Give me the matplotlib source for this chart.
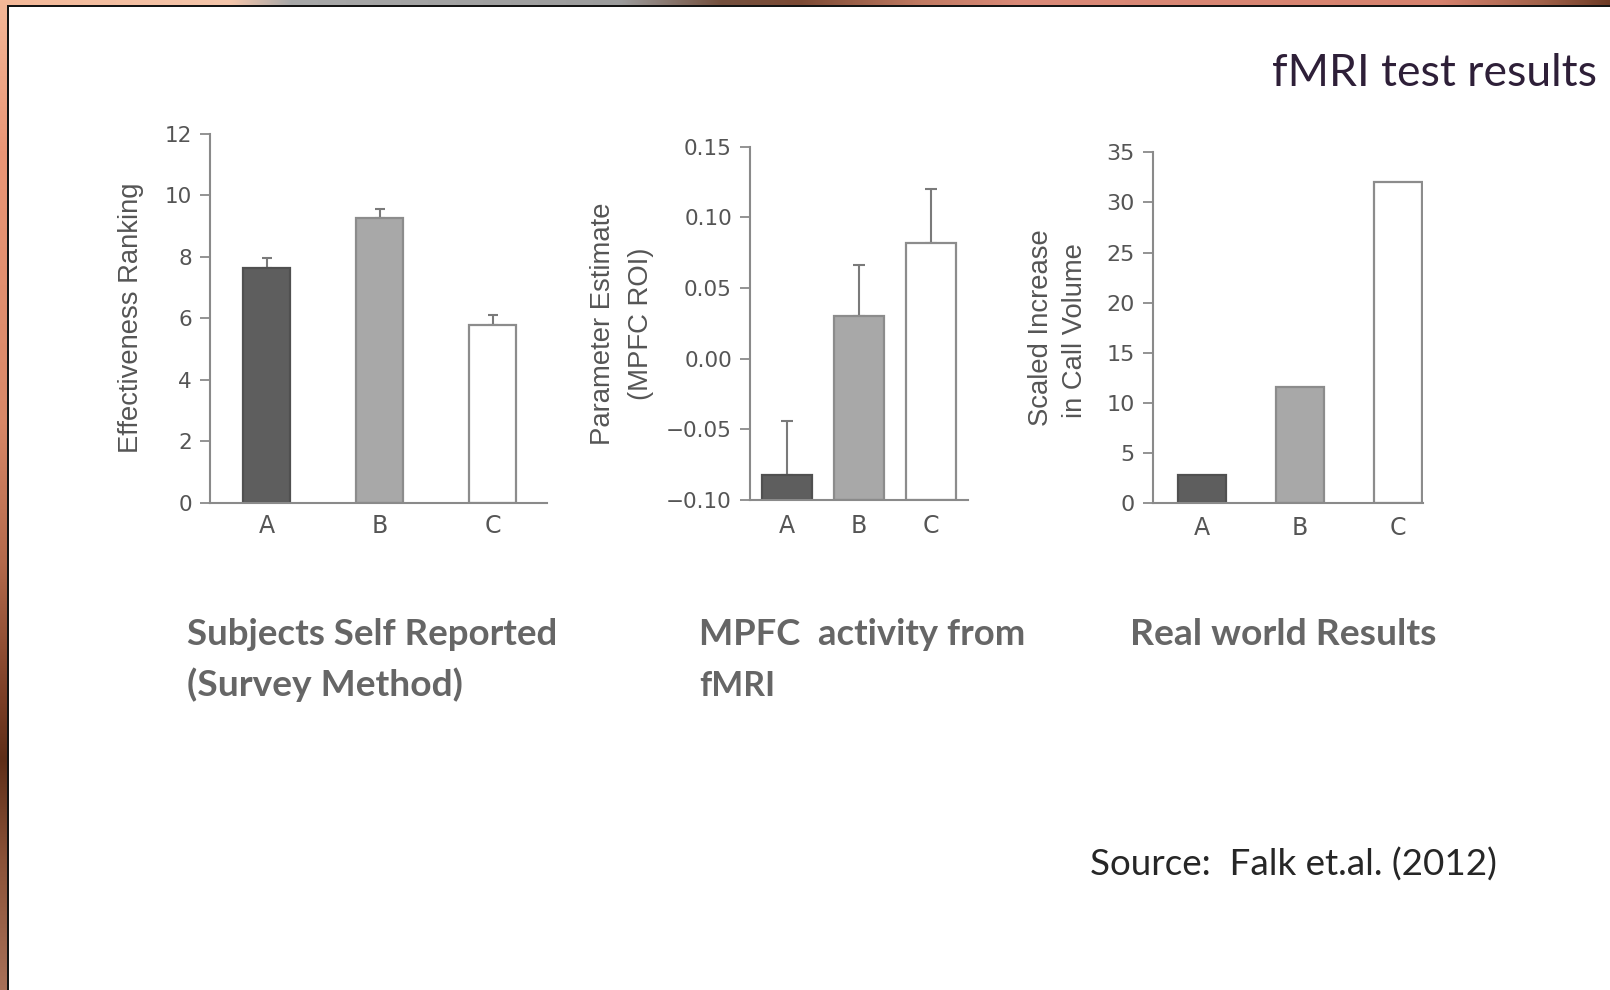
import numpy as np
import matplotlib
matplotlib.use("Agg")
import matplotlib.pyplot as plt
from matplotlib.colors import to_rgb
from matplotlib.patches import Rectangle

W, H, DPI = 1610, 990, 100

# ---- data -------------------------------------------------------------
categories = ["A", "B", "C"]

survey_values = [7.65, 9.28, 5.78]
survey_errors = [0.33, 0.28, 0.32]
survey_ticks = [0, 2, 4, 6, 8, 10, 12]

mpfc_values = [-0.082, 0.030, 0.082]
mpfc_errors = [0.038, 0.036, 0.038]
mpfc_ticks = [-0.10, -0.05, 0.00, 0.05, 0.10, 0.15]
mpfc_tick_labels = ["\u22120.10", "\u22120.05", "0.00", "0.05", "0.10", "0.15"]

calls_values = [2.8, 11.6, 32.0]
calls_ticks = [0, 5, 10, 15, 20, 25, 30, 35]

bar_fills = ["#5e5e5e", "#a8a8a8", "#ffffff"]
bar_edges = ["#505050", "#8c8c8c", "#8c8c8c"]

AXIS_GREY = "#8a8a8a"
TEXT_GREY = "#555555"

fig = plt.figure(figsize=(W / DPI, H / DPI), dpi=DPI, facecolor="white")


def px_axes(left, top, right, bottom, **kw):
    return fig.add_axes([left / W, 1 - bottom / H, (right - left) / W, (bottom - top) / H], **kw)


# ---- slide frame ----------------------------------------------------------
bg = px_axes(0, 0, W, H, zorder=-10)
bg.axis("off")


def gradient(stops, n):
    pos = np.array([p for p, _ in stops], dtype=float)
    cols = np.array([to_rgb(c) for _, c in stops])
    xs = np.linspace(pos[0], pos[-1], n)
    return np.stack([np.interp(xs, pos, cols[:, k]) for k in range(3)], axis=-1)


top_stops = [(0, "#f3b898"), (230, "#f5c6ab"), (290, "#a8a8a8"), (620, "#9c9c9c"),
             (720, "#74503e"), (800, "#7c4a34"), (920, "#c07a62"), (1020, "#da8a78"),
             (1440, "#d6826e"), (1540, "#a2624a"), (1610, "#6c3a25")]
left_stops = [(0, "#f4b898"), (150, "#ea9676"), (420, "#d88868"), (560, "#b46a4c"),
              (700, "#7a3e26"), (760, "#5e2e18"), (860, "#8a5238"), (990, "#a87058")]

top_img = gradient(top_stops, 800)[np.newaxis, :, :]
left_img = gradient(left_stops, 500)[:, np.newaxis, :]
bg.imshow(top_img, extent=[0, W, 5.5, 0], aspect="auto", interpolation="bilinear")
bg.imshow(left_img, extent=[0, 7.5, H, 0], aspect="auto", interpolation="bilinear")
bg.add_patch(Rectangle((7, 5), W - 7, 2.2, color="#141414", lw=0))
bg.add_patch(Rectangle((7, 5), 2.2, H - 5, color="#141414", lw=0))
bg.set_xlim(0, W)
bg.set_ylim(H, 0)


# ---- bar panels -----------------------------------------------------------
def style_axes(ax, ticks, ticklabels, tick_fs, xlab_pad):
    for side in ("top", "right"):
        ax.spines[side].set_visible(False)
    for side in ("left", "bottom"):
        ax.spines[side].set_color(AXIS_GREY)
        ax.spines[side].set_linewidth(1.5)
    ax.set_yticks(ticks)
    ax.set_yticklabels(ticklabels, fontsize=tick_fs, color=TEXT_GREY, family="DejaVu Sans")
    ax.tick_params(axis="y", direction="out", length=7, width=1.3, color=AXIS_GREY, pad=6)
    ax.set_xticks(range(len(categories)))
    ax.set_xticklabels(categories, fontsize=17, color=TEXT_GREY, family="DejaVu Sans")
    ax.tick_params(axis="x", length=0, pad=xlab_pad)
    ax.set_facecolor("none")


def draw_bars(ax, values, width, base=0.0, errors=None, capsize=4):
    x = np.arange(len(values))
    heights = np.array(values) - base
    ax.bar(x, heights, width=width, bottom=base, color=bar_fills,
           edgecolor=bar_edges, linewidth=1.6, zorder=2)
    if errors is not None:
        ax.errorbar(x, values, yerr=[np.zeros(len(errors)), errors], fmt="none",
                    ecolor="#7a7a7a", elinewidth=1.5, capsize=capsize, capthick=1.5, zorder=1)


# Panel 1: self-reported effectiveness
ax1 = px_axes(210, 134, 547, 502.7)
draw_bars(ax1, survey_values, 0.42, errors=survey_errors, capsize=3.6)
ax1.set_xlim(-0.50, 2.48)
ax1.set_ylim(0, 12)
style_axes(ax1, survey_ticks, [str(t) for t in survey_ticks], 15.5, 8)

# Panel 2: MPFC parameter estimate
ax2 = px_axes(750, 146.7, 968, 500)
draw_bars(ax2, mpfc_values, 0.69, base=mpfc_ticks[0], errors=mpfc_errors, capsize=4.3)
ax2.set_xlim(-0.51, 2.51)
ax2.set_ylim(mpfc_ticks[0], mpfc_ticks[-1])
style_axes(ax2, mpfc_ticks, mpfc_tick_labels, 15.5, 10)

# Panel 3: call volume
ax3 = px_axes(1152.7, 152.3, 1423, 503.3)
draw_bars(ax3, calls_values, 0.49)
ax3.set_xlim(-0.50, 2.255)
ax3.set_ylim(0, 35)
style_axes(ax3, calls_ticks, [str(t) for t in calls_ticks], 16, 9)

renderer = fig.canvas.get_renderer()


def put_text(x, y, s, target_len, rotation=0, **kw):
    t = fig.text(x / W, 1 - y / H, s, rotation=rotation, fontsize=20, **kw)
    bb = t.get_window_extent(renderer)
    length = bb.height if rotation == 90 else bb.width
    t.set_fontsize(20 * target_len / length)
    return t


ylab_kw = dict(color=TEXT_GREY, family="Liberation Sans", ha="center", va="center")
put_text(131, 318, "Effectiveness Ranking", 270, rotation=90, **ylab_kw)
put_text(603, 324, "Parameter Estimate", 242, rotation=90, **ylab_kw)
put_text(641, 324, "(MPFC ROI)", 153, rotation=90, **ylab_kw)
put_text(1041, 328, "Scaled Increase", 197, rotation=90, **ylab_kw)
put_text(1075, 331, "in Call Volume", 175, rotation=90, **ylab_kw)

# ---- captions ---------------------------------------------------------------
cap_kw = dict(color="#666666", family="Lato", weight="bold", ha="left", va="baseline")
put_text(187, 645, "Subjects Self Reported", 371, **cap_kw)
put_text(187, 696, "(Survey Method)", 276, **cap_kw)
put_text(699, 645, "MPFC  activity from", 326, **cap_kw)
put_text(699, 696, "fMRI", 76, **cap_kw)
put_text(1130, 645, "Real world Results", 307, **cap_kw)

put_text(1090, 876, "Source:  Falk et.al. (2012)", 407,
         color="#262626", family="Lato", ha="left", va="baseline")
put_text(1272, 86, "fMRI test results", 325,
         color="#2e1f38", family="Lato", ha="left", va="baseline")

fig.savefig("out.png", dpi=DPI, facecolor="white")
